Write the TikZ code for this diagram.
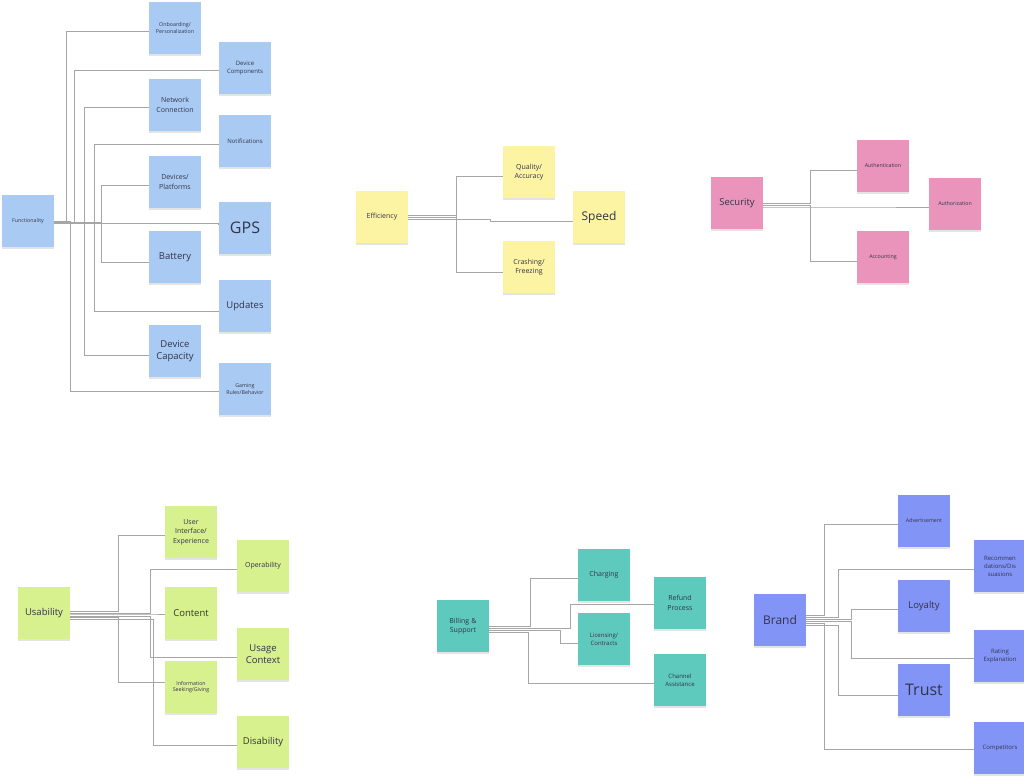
\documentclass[tikz,border=0pt]{standalone}
\usepackage{fontspec}
\setmainfont{Open Sans}
\usetikzlibrary{calc}
\definecolor{cblue}{HTML}{A9CBF3}
\definecolor{cyel}{HTML}{FCF4A3}
\definecolor{cpink}{HTML}{EA94BB}
\definecolor{cgreen}{HTML}{D7F18E}
\definecolor{cteal}{HTML}{5ECABD}
\definecolor{cpurp}{HTML}{8295F7}
\definecolor{ctext}{HTML}{33334A}
\tikzset{
 sticky/.style={minimum width=52pt,minimum height=52pt,inner sep=1pt,text width=48pt,align=center,text=ctext,
   preaction={fill=black!30,opacity=0.35,transform canvas={yshift=-2pt}}},
 fs1/.style={font=\fontsize{5.3}{6.8}\selectfont},
 fs1b/.style={font=\fontsize{6}{8}\selectfont},
 fs2/.style={font=\fontsize{7}{9.5}\selectfont},
 fs3/.style={font=\fontsize{9.5}{12.5}\selectfont},
 fs4/.style={font=\fontsize{12}{14}\selectfont},
 fs5/.style={font=\fontsize{16}{18}\selectfont},
 conn/.style={draw=black!35,line width=0.7pt},
}
\newcommand\conn[5]{\draw[conn] ($(#1.east)+(0,#3)$) -- ++(#4,0) |- ($(#2.west)+(0,#5)$);}
\begin{document}
\begin{tikzpicture}[x=1pt,y=-1pt]
\useasboundingbox (0,0) rectangle (1024,778);
% Functionality
\node[sticky,fill=cblue,fs1] (fun) at (28,221) {Functionality};
\node[sticky,fill=cblue,fs1] (onb) at (175,28) {Onboarding/\\Personalization};
\node[sticky,fill=cblue,fs1b] (dcomp) at (245,68) {Device\\Components};
\node[sticky,fill=cblue,fs2] (net) at (175,105) {Network\\Connection};
\node[sticky,fill=cblue,fs1b] (notif) at (245,141) {Notifications};
\node[sticky,fill=cblue,fs2] (dev) at (175,182) {Devices/\\Platforms};
\node[sticky,fill=cblue,fs5] (gps) at (245,228) {GPS};
\node[sticky,fill=cblue,fs3] (bat) at (175,257) {Battery};
\node[sticky,fill=cblue,fs3] (upd) at (245,306) {Updates};
\node[sticky,fill=cblue,fs3] (dcap) at (175,351) {Device\\Capacity};
\node[sticky,fill=cblue,fs1] (game) at (245,389) {Gaming\\Rules/Behavior};
\conn{fun}{onb}{1}{12}{3}
\conn{fun}{dcomp}{1}{20}{2}
\conn{fun}{net}{1}{30}{2}
\conn{fun}{notif}{1}{40}{3}
\conn{fun}{dev}{1}{47}{3}
\conn{fun}{gps}{2}{164}{-4}
\conn{fun}{bat}{1}{47}{5}
\conn{fun}{upd}{1}{40}{5}
\conn{fun}{dcap}{1}{30}{4}
\conn{fun}{game}{0}{16}{2}
% Efficiency
\node[sticky,fill=cyel,fs2] (eff) at (382,217) {Efficiency};
\node[sticky,fill=cyel,fs2] (qual) at (529,172) {Quality/\\Accuracy};
\node[sticky,fill=cyel,fs4] (speed) at (599,217) {Speed};
\node[sticky,fill=cyel,fs2] (crash) at (529,267) {Crashing/\\Freezing};
\conn{eff}{qual}{0}{48}{4}
\conn{eff}{speed}{2}{82}{4}
\conn{eff}{crash}{-2}{48}{5}
% Security
\node[sticky,fill=cpink,fs3] (sec) at (737,203) {Security};
\node[sticky,fill=cpink,fs1] (authn) at (883,166) {Authentication};
\node[sticky,fill=cpink,fs1] (authz) at (955,204) {Authorization};
\node[sticky,fill=cpink,fs1] (acc) at (883,257) {Accounting};
\conn{sec}{authn}{0}{47}{4}
\conn{sec}{authz}{4}{100}{3}
\conn{sec}{acc}{2}{47}{4}
% Usability
\node[sticky,fill=cgreen,fs3] (usa) at (44,613) {Usability};
\node[sticky,fill=cgreen,fs2] (ui) at (191,532) {User\\Interface/\\Experience};
\node[sticky,fill=cgreen,fs2] (oper) at (263,566) {Operability};
\node[sticky,fill=cgreen,fs3] (cont) at (191,613) {Content};
\node[sticky,fill=cgreen,fs3] (uctx) at (263,654) {Usage\\Context};
\node[sticky,fill=cgreen,fs1] (info) at (191,687) {Information\\Seeking/Giving};
\node[sticky,fill=cgreen,fs3] (dis) at (263,742) {Disability};
\conn{usa}{ui}{-2}{48}{3}
\conn{usa}{oper}{0}{80}{3}
\conn{usa}{cont}{1}{80}{1}
\conn{usa}{uctx}{3}{80}{3}
\conn{usa}{info}{4}{48}{-5}
\conn{usa}{dis}{6}{83}{3}
% Billing
\node[sticky,fill=cteal,fs2] (bill) at (463,626) {Billing \&\\Support};
\node[sticky,fill=cteal,fs2] (charg) at (604,575) {Charging};
\node[sticky,fill=cteal,fs2] (refund) at (680,603) {Refund\\Process};
\node[sticky,fill=cteal,fs1b] (lic) at (604,639) {Licensing/\\Contracts};
\node[sticky,fill=cteal,fs1b] (chan) at (680,680) {Channel\\Assistance};
\conn{bill}{charg}{0}{41}{3}
\conn{bill}{refund}{2}{81}{1}
\conn{bill}{lic}{4}{71}{4}
\conn{bill}{chan}{6}{39}{3}
% Brand
\node[sticky,fill=cpurp,fs4] (brand) at (780,620) {Brand};
\node[sticky,fill=cpurp,fs1] (adv) at (924,521) {Advertisement};
\node[sticky,fill=cpurp,fs1b] (rec) at (1000,566) {Recommen\\dations/Dis\\suasions};
\node[sticky,fill=cpurp,fs3] (loy) at (924,606) {Loyalty};
\node[sticky,fill=cpurp,fs1b] (rate) at (1000,656) {Rating\\Explanation};
\node[sticky,fill=cpurp,fs5] (trust) at (924,690) {Trust};
\node[sticky,fill=cpurp,fs1b] (comp) at (1000,748) {Competitors};
\conn{brand}{adv}{-5}{18}{3}
\conn{brand}{rec}{-3}{32}{3}
\conn{brand}{loy}{-1}{45}{3}
\conn{brand}{rate}{1}{45}{2}
\conn{brand}{trust}{5}{32}{5}
\conn{brand}{comp}{3}{18}{1}
\end{tikzpicture}
\end{document}
